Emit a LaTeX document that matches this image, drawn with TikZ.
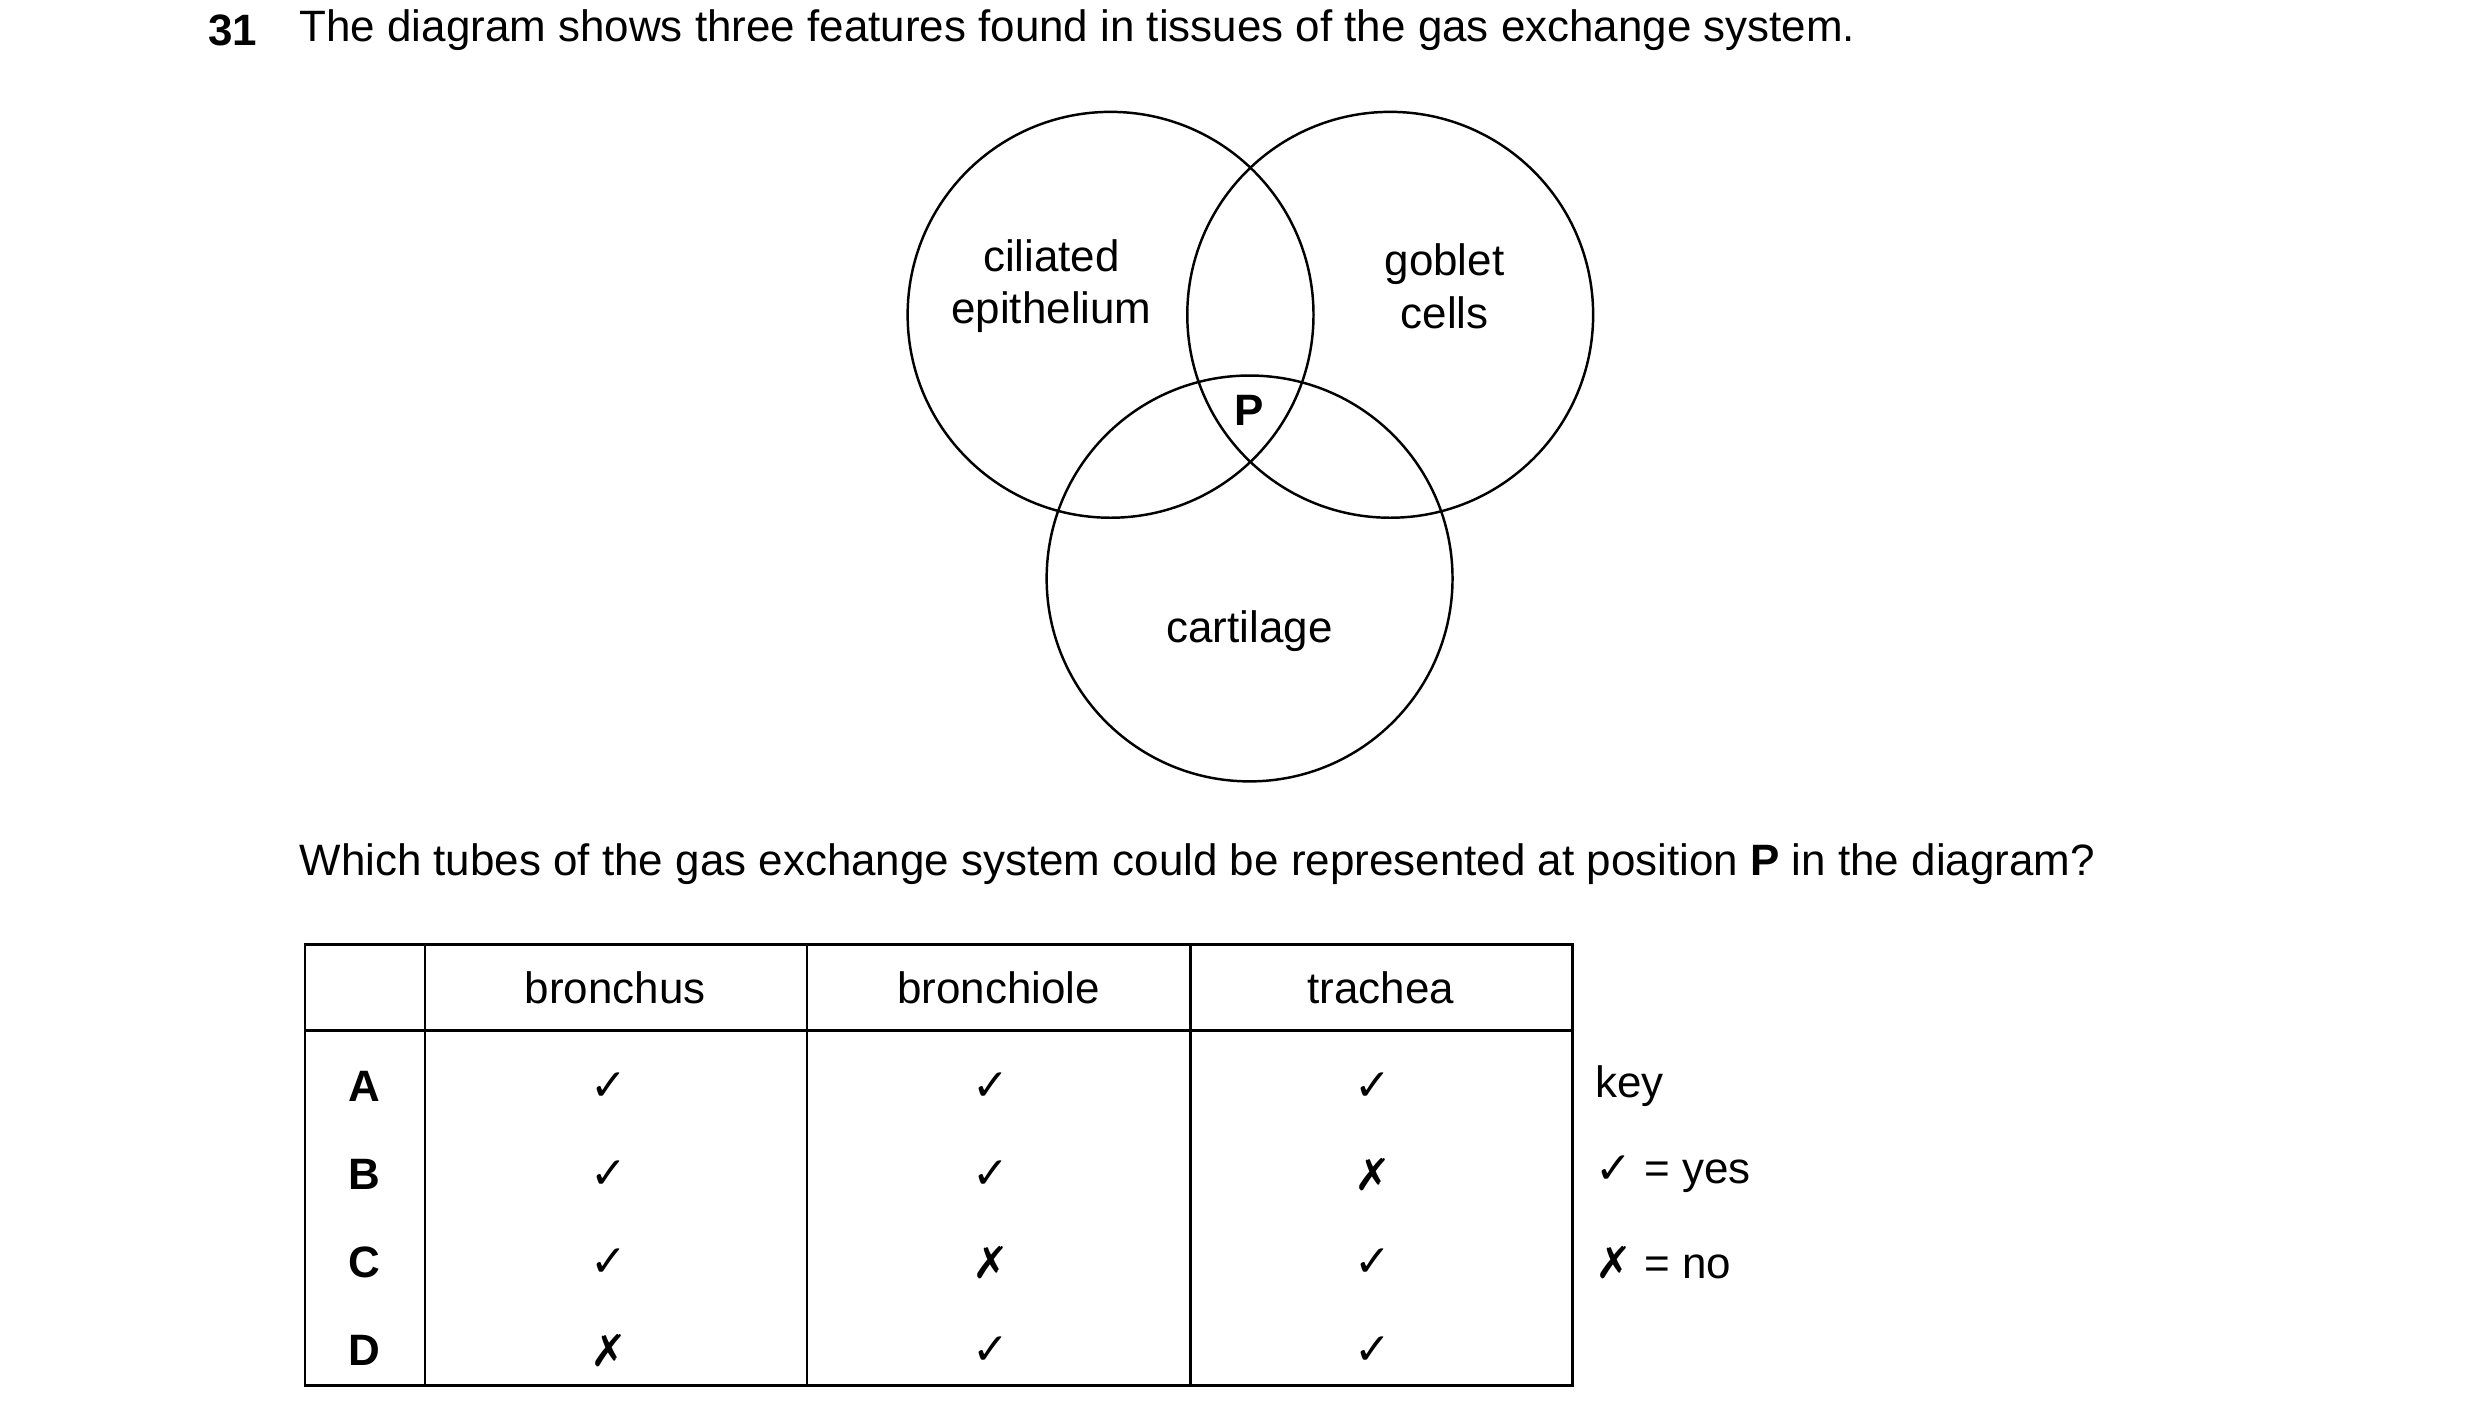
\documentclass[tikz,border=0pt]{standalone}
\usepackage{fontspec}
\setmainfont{Liberation Sans}
\newfontfamily\symfont{DejaVu Sans}
\usepackage{tikz}
\usetikzlibrary{positioning}
\newcommand{\yes}{{\symfont ✓}}
\newcommand{\no}{{\symfont ✗}}
\tikzset{
	txt/.style={font=\fontsize{12.5}{15}\selectfont, inner sep=0pt},
	circ/.style={draw=black, line width=0.7pt},
	grid/.style={draw=black, line width=0.7pt}
}

\begin{document}
\begin{tikzpicture}[x=0.01598cm, y=-0.01598cm]
	\useasboundingbox (0,0) rectangle (1552,884);
	
	\node [txt, anchor=west] (num) at (130, 19) {\textbf{31}};
	\node [txt, anchor=west] (q1) at (187, 19) {The diagram shows three features found in tissues of the gas exchange system.};
	
	\draw [circ] (695, 197) circle (127);
	\draw [circ] (870, 197) circle (127);
	\draw [circ] (782, 362) circle (127);
	
	\node [txt, align=center] (cil) at (658, 179) {ciliated\\epithelium};
	\node [txt, align=center] (gob) at (904, 179) {goblet\\cells};
	\node [txt] (car) at (782, 395) {cartilage};
	\node [txt] (P) at (782, 257) {\textbf{P}};
	
	\node [txt, anchor=west] (q2) at (187, 541) {Which tubes of the gas exchange system could be represented at position \textbf{P} in the diagram?};
	
	\draw [grid] (191, 591) rectangle (984, 867);
	\draw [grid] (191, 645) -- (984, 645);
	\draw [grid] (266, 591) -- (266, 867);
	\draw [grid] (505, 591) -- (505, 867);
	\draw [grid] (745, 591) -- (745, 867);
	
	\node [txt] (h1) at (385, 618) {bronchus};
	\node [txt] (h2) at (625, 618) {bronchiole};
	\node [txt] (h3) at (864, 618) {trachea};
	
	% rows
	\foreach \lab/\a/\b/\c/\y in {A/\yes/\yes/\yes/680, B/\yes/\yes/\no/735, C/\yes/\no/\yes/790, D/\no/\yes/\yes/845} {
		\node [txt] (r\lab) at (228, \y) {\textbf{\lab}};
		\node [txt] (r\lab1) at (381, \y) {\a};
		\node [txt] (r\lab2) at (620, \y) {\b};
		\node [txt] (r\lab3) at (859, \y) {\c};
	}
	
	\node [txt, anchor=west] (key) at (998, 680) {key};
	\node [txt, anchor=west] (kyes) at (998, 735) {\yes\ = yes};
	\node [txt, anchor=west] (kno) at (998, 790) {\no\ = no};
\end{tikzpicture}
\end{document}
